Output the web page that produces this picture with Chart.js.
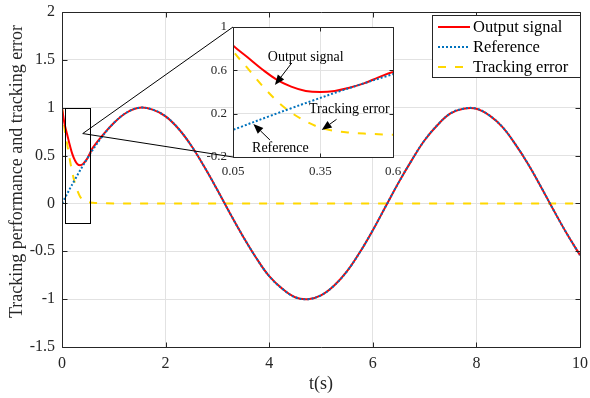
<!DOCTYPE html>
<html>
<head>
<meta charset="utf-8">
<script src="https://cdn.jsdelivr.net/npm/chart.js@4"></script>
<style>
  body { margin: 0; background: #fff; }
  #wrap { position: relative; width: 590px; height: 398px; }
  #wrap canvas { position: absolute; left: 0; top: 0; }
</style>
</head>
<body>
<div id="wrap">
  <canvas id="main" width="590" height="398"></canvas>
  <canvas id="inset" width="590" height="398"></canvas>
</div>
<script>
// values
const refT = [0, 0.25, 0.5, 0.75, 1, 1.25, 1.5, 1.75, 2, 2.25, 2.5, 2.75, 3, 3.25, 3.5, 3.75, 4, 4.25, 4.5, 4.75,
  5, 5.25, 5.5, 5.75, 6, 6.25, 6.5, 6.75, 7, 7.25, 7.5, 7.75, 8, 8.25, 8.5, 8.75, 9, 9.25, 9.5, 9.75, 10];
const refY = [0, 0.25, 0.48, 0.68, 0.84, 0.95, 1.0, 0.98, 0.91, 0.78, 0.60, 0.38, 0.14, -0.11, -0.35, -0.57, -0.76, -0.89, -0.98, -1.0,
  -0.96, -0.86, -0.71, -0.51, -0.28, -0.03, 0.22, 0.45, 0.66, 0.82, 0.94, 0.99, 0.99, 0.92, 0.80, 0.62, 0.41, 0.17, -0.08, -0.32, -0.54];

const outT = [0, 0.025, 0.05, 0.1, 0.15, 0.2, 0.25, 0.3, 0.35, 0.4, 0.45, 0.5, 0.55, 0.6, 0.75, 1, 1.25, 1.5, 1.75, 2, 2.25, 2.5, 2.75,
  3, 3.25, 3.5, 3.75, 4, 4.25, 4.5, 4.75, 5, 5.25, 5.5, 5.75, 6, 6.25, 6.5, 6.75, 7, 7.25, 7.5, 7.75, 8, 8.25, 8.5, 8.75, 9, 9.25, 9.5, 9.75, 10];
const outY = [1.0, 0.91, 0.83, 0.72, 0.61, 0.515, 0.45, 0.41, 0.40, 0.41, 0.44, 0.48, 0.535, 0.585, 0.69, 0.84, 0.95, 1.0, 0.98, 0.91, 0.78, 0.60, 0.38,
  0.14, -0.11, -0.35, -0.57, -0.76, -0.89, -0.98, -1.0, -0.96, -0.86, -0.71, -0.51, -0.28, -0.03, 0.22, 0.45, 0.66, 0.82, 0.94, 0.99, 0.99, 0.92, 0.80, 0.62, 0.41, 0.17, -0.08, -0.32, -0.54];

const errT = [0, 0.025, 0.05, 0.1, 0.15, 0.2, 0.25, 0.3, 0.35, 0.4, 0.45, 0.5, 0.55, 0.6, 0.75, 1, 1.5, 2, 3, 4, 5, 6, 7, 8, 9, 10];
const errY = [1.0, 0.89, 0.78, 0.62, 0.46, 0.32, 0.21, 0.13, 0.07, 0.04, 0.025, 0.016, 0.01, 0.006, 0.003, 0, 0, 0, 0, 0, 0, 0, 0, 0, 0, 0];

const seriesNames = ['Output signal', 'Reference', 'Tracking error'];
const xTicks = [0, 2, 4, 6, 8, 10];
const yTicks = [-1.5, -1, -0.5, 0, 0.5, 1, 1.5, 2];
const insetXTicks = [0.05, 0.35, 0.6];
const insetYTicks = [-0.2, 0.2, 0.6, 1];
const yTitle = 'Tracking performance and tracking error';

const serif = "'Liberation Serif', 'Times New Roman', serif";
const ink = '#262626';
const gridColor = '#e2e2e2';
const zip = (t, v) => t.map((x, i) => ({ x: x, y: v[i] }));

function makeDatasets() {
  return [
    { label: seriesNames[0], data: zip(outT, outY), borderColor: '#ff0000', borderWidth: 2, order: 1, tension: 0.4 },
    { label: seriesNames[1], data: zip(refT, refY), borderColor: '#0072bd', borderWidth: 2, borderDash: [2, 2], order: 0, tension: 0.4 },
    { label: seriesNames[2], data: zip(errT, errY), borderColor: '#ffd700', borderWidth: 2, borderDash: [8, 9], order: 2, cubicInterpolationMode: 'monotone' }
  ].map(d => Object.assign(d, { pointRadius: 0, fill: false }));
}

function frame(chart, len) {
  const { ctx, chartArea: a, scales: { x, y } } = chart;
  const L = Math.round(a.left) + 0.5, R = Math.round(a.right) + 0.5;
  const T = Math.round(a.top) + 0.5, B = Math.round(a.bottom) + 0.5;
  ctx.save();
  ctx.strokeStyle = ink;
  ctx.lineWidth = 1;
  ctx.beginPath();
  ctx.rect(L, T, R - L, B - T);
  x.ticks.forEach(t => {
    const p = Math.round(x.getPixelForValue(t.value)) + 0.5;
    ctx.moveTo(p, B); ctx.lineTo(p, B - len);
    ctx.moveTo(p, T); ctx.lineTo(p, T + len);
  });
  y.ticks.forEach(t => {
    const p = Math.round(y.getPixelForValue(t.value)) + 0.5;
    ctx.moveTo(L, p); ctx.lineTo(L + len, p);
    ctx.moveTo(R, p); ctx.lineTo(R - len, p);
  });
  ctx.stroke();
  ctx.restore();
}

function axis(opts) {
  return Object.assign({
    type: 'linear',
    grid: { color: gridColor, drawTicks: false },
    border: { display: false },
    ticks: { color: ink, font: { family: serif, size: 16 }, padding: 7, maxRotation: 0, callback: v => String(v) }
  }, opts);
}

const mainChart = new Chart(document.getElementById('main'), {
  type: 'line',
  data: { datasets: makeDatasets() },
  options: {
    responsive: false, animation: false, devicePixelRatio: 1, events: [],
    layout: { padding: { left: 0, right: 10, top: 12, bottom: 0 } },
    plugins: { legend: { display: false }, tooltip: { enabled: false } },
    scales: {
      x: axis({
        min: 0, max: 10,
        afterBuildTicks: s => { s.ticks = xTicks.map(v => ({ value: v })); },
        afterFit: s => { s.height = 51; s.paddingLeft = 0; s.paddingRight = 0; },
        title: { display: true, text: 't(s)', color: ink, font: { family: serif, size: 18 }, padding: { top: 0, bottom: 3 } }
      }),
      y: axis({
        min: -1.5, max: 2,
        afterBuildTicks: s => { s.ticks = yTicks.map(v => ({ value: v })); },
        afterFit: s => { s.width = 62; s.paddingTop = 0; s.paddingBottom = 0; }
      })
    }
  },
  plugins: [{
    id: 'mainDeco',
    afterDraw(chart) {
      frame(chart, 5);
      const { ctx, chartArea: a } = chart;
      // y axis title, sits a little above the middle like the original
      ctx.save();
      ctx.translate(17.5, (a.top + a.bottom) / 2 - 8);
      ctx.rotate(-Math.PI / 2);
      ctx.font = '18px ' + serif;
      ctx.fillStyle = ink;
      ctx.textAlign = 'center';
      ctx.textBaseline = 'middle';
      ctx.fillText(yTitle, 0, 0);
      ctx.restore();
      // legend box in the upper right corner
      const w = 148, h = 62, left = a.right - w, top = a.top + 3;
      ctx.save();
      ctx.fillStyle = '#fff';
      ctx.fillRect(left, top, w, h);
      ctx.strokeStyle = ink;
      ctx.lineWidth = 1;
      ctx.strokeRect(Math.round(left) + 0.5, Math.round(top) + 0.5, w, h);
      ctx.font = '16.5px ' + serif;
      ctx.textBaseline = 'middle';
      ctx.fillStyle = '#000';
      chart.data.datasets.forEach((d, i) => {
        const yy = top + 12 + i * 20;
        ctx.beginPath();
        ctx.strokeStyle = d.borderColor;
        ctx.lineWidth = 2;
        ctx.setLineDash(d.borderDash || []);
        ctx.moveTo(left + 6, yy);
        ctx.lineTo(left + 38, yy);
        ctx.stroke();
        ctx.setLineDash([]);
        ctx.fillText(d.label, left + 41, yy + 1);
      });
      ctx.restore();
    }
  }]
});

// zoom box on the main axes and the note arrows of the inset (data units)
const zoomBox = { x0: 0.05, x1: 0.55, y0: -0.2, y1: 1, px: 0.4, py: 0.73 };
const insetNotes = [
  { text: 'Output signal', tx: 0.30, ty: 0.72, ax: 0.252, ay: 0.668, hx: 0.194, hy: 0.465 },
  { text: 'Tracking error', tx: 0.45, ty: 0.24, ax: 0.406, ay: 0.148, hx: 0.355, hy: 0.049 },
  { text: 'Reference', tx: 0.213, ty: -0.117, ax: 0.177, ay: -0.043, hx: 0.12, hy: 0.105 }
];

function arrow(ctx, x1, y1, x2, y2) {
  const ang = Math.atan2(y2 - y1, x2 - x1), hl = 10, hw = 4;
  const bx = x2 - hl * Math.cos(ang), by = y2 - hl * Math.sin(ang);
  ctx.beginPath();
  ctx.moveTo(x1, y1);
  ctx.lineTo(bx, by);
  ctx.stroke();
  ctx.beginPath();
  ctx.moveTo(x2, y2);
  ctx.lineTo(bx - hw * Math.sin(ang), by + hw * Math.cos(ang));
  ctx.lineTo(bx + hw * Math.sin(ang), by - hw * Math.cos(ang));
  ctx.closePath();
  ctx.fill();
}

new Chart(document.getElementById('inset'), {
  type: 'line',
  data: { datasets: makeDatasets() },
  options: {
    responsive: false, animation: false, devicePixelRatio: 1, events: [],
    layout: { padding: { left: 203, right: 197, top: 27, bottom: 216 } },
    plugins: { legend: { display: false }, tooltip: { enabled: false } },
    scales: {
      x: axis({
        min: 0.05, max: 0.6,
        afterBuildTicks: s => { s.ticks = insetXTicks.map(v => ({ value: v })); },
        afterFit: s => { s.height = 25; s.paddingLeft = 0; s.paddingRight = 0; },
        ticks: { color: ink, font: { family: serif, size: 13 }, padding: 7, maxRotation: 0, callback: v => String(v) }
      }),
      y: axis({
        min: -0.2, max: 1,
        afterBuildTicks: s => { s.ticks = insetYTicks.map(v => ({ value: v })); },
        afterFit: s => { s.width = 30; s.paddingTop = 0; s.paddingBottom = 0; },
        ticks: { color: ink, font: { family: serif, size: 13 }, padding: 6, callback: v => String(v) }
      })
    }
  },
  plugins: [{
    id: 'insetDeco',
    beforeDraw(chart) {
      const { ctx, chartArea: a } = chart;
      ctx.save();
      ctx.fillStyle = '#fff';
      ctx.fillRect(a.left, a.top, a.right - a.left, a.bottom - a.top);
      ctx.restore();
    },
    afterDraw(chart) {
      frame(chart, 4);
      const { ctx, chartArea: a, scales: { x, y } } = chart;
      const mx = mainChart.scales.x, my = mainChart.scales.y;
      ctx.save();
      ctx.strokeStyle = '#000';
      ctx.fillStyle = '#000';
      ctx.lineWidth = 1;
      // rectangle on the main axes
      const rx0 = Math.round(mx.getPixelForValue(zoomBox.x0)) + 0.5, rx1 = Math.round(mx.getPixelForValue(zoomBox.x1)) + 0.5;
      const ry0 = Math.round(my.getPixelForValue(zoomBox.y0)) + 0.5, ry1 = Math.round(my.getPixelForValue(zoomBox.y1)) + 0.5;
      ctx.strokeRect(rx0, ry1, rx1 - rx0, ry0 - ry1);
      // connector lines
      const px = mx.getPixelForValue(zoomBox.px), py = my.getPixelForValue(zoomBox.py);
      ctx.beginPath();
      ctx.moveTo(a.left, a.top); ctx.lineTo(px, py); ctx.lineTo(a.left, a.bottom);
      ctx.stroke();
      // notes with arrows
      ctx.font = '14px ' + serif;
      ctx.textAlign = 'center';
      ctx.textBaseline = 'middle';
      insetNotes.forEach(n => {
        ctx.fillText(n.text, x.getPixelForValue(n.tx), y.getPixelForValue(n.ty));
        arrow(ctx, x.getPixelForValue(n.ax), y.getPixelForValue(n.ay), x.getPixelForValue(n.hx), y.getPixelForValue(n.hy));
      });
      ctx.restore();
    }
  }]
});
</script>
</body>
</html>
